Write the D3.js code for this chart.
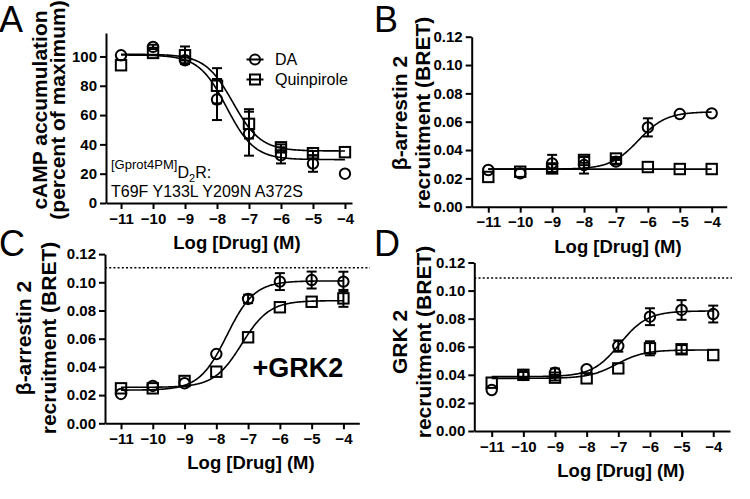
<!DOCTYPE html>
<html><head><meta charset="utf-8">
<script src="https://cdn.jsdelivr.net/npm/d3@7"></script>
<style>body{margin:0;background:#fff}svg{display:block}</style>
</head><body>
<svg id="c" width="750" height="499"></svg>
<script>
// ---------- DATA ----------
const logDose = [-11, -10, -9, -8, -7, -6, -5, -4];
const xTicks = [-11, -10, -9, -8, -7, -6, -5, -4];
const yTicksA = [0, 20, 40, 60, 80, 100];
const yTicksBRET = [0, 0.02, 0.04, 0.06, 0.08, 0.10, 0.12];
const seriesNames = ["DA", "Quinpirole"];

// Panel A: cAMP accumulation (% of max)
const aDA = [100.8, 106.5, 97.4, 70.6, 47.3, 32.5, 26.9, 20];
const aDAerr = [0, 1.5, 2, 14, 15, 5.5, 5.6, 0];
const aQuin = [94, 102.4, 100.8, 80, 54, 38, 34, 34.7];
const aQuinErr = [0, 0, 6, 12, 10, 2, 1.5, 0];
// fit params: [bottom, top, logEC50]
const aDAfit = [29.6, 101, -7.7];
const aQuinFit = [35.5, 101.5, -7.5];

// Panel B: beta-arrestin 2 recruitment
const bDA = [0.0259, 0.0235, 0.0306, 0.0294, 0.0318, 0.056, 0.0654, 0.0659];
const bDAerr = [0, 0, 0.006, 0.006, 0.002, 0.0064, 0, 0];
const bQuin = [0.021, 0.0247, 0.027, 0.033, 0.034, 0.028, 0.0266, 0.0266];
const bQuinErr = [0, 0, 0.003, 0.002, 0.001, 0, 0, 0];
const bDAfit = [0.0265, 0.067, -6.3];
const bQuinFit = [0.0265, 0.0265, -7];

// Panel C: beta-arrestin 2 recruitment +GRK2
const cDA = [0.0208, 0.0265, 0.0284, 0.0491, 0.0882, 0.1005, 0.1016, 0.1005];
const cDAerr = [0, 0, 0, 0, 0.003, 0.006, 0.006, 0.007];
const cQuin = [0.0248, 0.0248, 0.030, 0.0366, 0.061, 0.0823, 0.0862, 0.0886];
const cQuinErr = [0, 0, 0, 0, 0, 0, 0, 0.006];
const cDAfit = [0.0235, 0.101, -7.67];
const cQuinFit = [0.0255, 0.087, -7.2];
const cRef = 0.1104;

// Panel D: GRK2 recruitment
const dDA = [0.0292, 0.0399, 0.0415, 0.044, 0.0605, 0.0814, 0.0862, 0.0833];
const dDAerr = [0, 0, 0.003, 0, 0.004, 0.006, 0.007, 0.006];
const dQuin = [0.0344, 0.040, 0.038, 0.0375, 0.0446, 0.0589, 0.0582, 0.0541];
const dQuinErr = [0, 0.002, 0.002, 0, 0, 0.005, 0.003, 0];
const dDAfit = [0.0387, 0.0855, -6.95];
const dQuinFit = [0.0375, 0.0577, -7.05];
const dRef = 0.109;

// ---------- DRAW ----------
const svg = d3.select("#c");
const FONT = "'Liberation Sans', Arial, Helvetica, sans-serif";

function sigmoid(p, x, decreasing) {
  const [bot, top, ec] = p;
  const e = decreasing ? (x - ec) : (ec - x);
  return bot + (top - bot) / (1 + Math.pow(10, e));
}

function panel(cfg) {
  const g = svg.append("g");
  const x = d3.scaleLinear().domain(cfg.xdom).range([cfg.left, cfg.right]);
  const y = d3.scaleLinear().domain(cfg.ydom).range([cfg.bottom, cfg.top]);

  const xa = g.append("g").attr("transform", `translate(0,${cfg.bottom})`)
    .call(d3.axisBottom(x).tickValues(xTicks).tickSize(6).tickSizeOuter(0).tickFormat(d3.format("d")));
  const ya = g.append("g").attr("transform", `translate(${cfg.left},0)`)
    .call(d3.axisLeft(y).tickValues(cfg.yticks).tickSize(6).tickSizeOuter(0).tickFormat(cfg.fmt));
  [xa, ya].forEach(a => {
    a.select(".domain").attr("stroke", "#000").attr("stroke-width", 2);
    a.selectAll(".tick line").attr("stroke", "#000").attr("stroke-width", 2);
    a.selectAll("text").attr("fill", "#000").style("font-family", FONT)
      .style("font-size", "15px").style("font-weight", "bold");
  });
  xa.selectAll("text").attr("y", 10);
  ya.selectAll("text").attr("x", -9);

  if (cfg.ref != null) {
    g.append("line").attr("x1", cfg.left).attr("x2", cfg.refEnd)
      .attr("y1", y(cfg.ref)).attr("y2", y(cfg.ref))
      .attr("stroke", "#000").attr("stroke-width", 1.5).attr("stroke-dasharray", "2,2.2");
  }

  const xs = d3.range(0, 281).map(i => -11 + i * 7 / 280);
  const line = d3.line().x(d => x(d[0])).y(d => y(d[1]));
  cfg.series.forEach(s => {
    g.append("path").datum(xs.map(v => [v, sigmoid(s.fit, v, cfg.decreasing)]))
      .attr("d", line).attr("fill", "none").attr("stroke", "#000").attr("stroke-width", 1.6);
  });

  cfg.series.forEach(s => {
    const pts = logDose.map((d, i) => ({ x: d, v: s.vals[i], e: s.err[i] }));
    const eb = g.append("g").attr("stroke", "#000").attr("stroke-width", 2);
    pts.filter(p => p.e > 0).forEach(p => {
      const cx = x(p.x);
      eb.append("line").attr("x1", cx).attr("x2", cx).attr("y1", y(p.v - p.e)).attr("y2", y(p.v + p.e));
      [p.v - p.e, p.v + p.e].forEach(v => eb.append("line")
        .attr("x1", cx - 5).attr("x2", cx + 5).attr("y1", y(v)).attr("y2", y(v)));
    });
    const mk = g.append("g").attr("fill", "none").attr("stroke", "#000").attr("stroke-width", 2);
    pts.forEach(p => {
      if (s.shape === "circle") mk.append("circle").attr("cx", x(p.x)).attr("cy", y(p.v)).attr("r", 5.2);
      else mk.append("rect").attr("x", x(p.x) - 5.2).attr("y", y(p.v) - 5.2).attr("width", 10.4).attr("height", 10.4);
    });
  });

  g.append("text").attr("x", cfg.xTitleX).attr("y", cfg.bottom + 46)
    .attr("text-anchor", "middle").style("font-family", FONT).style("font-size", "18.5px")
    .style("font-weight", "bold").text("Log [Drug] (M)");
  cfg.yTitle.forEach((t, i) => {
    g.append("text").attr("transform", `translate(${cfg.yTitleX[i]},${cfg.yTitleY}) rotate(-90)`)
      .attr("text-anchor", "middle").style("font-family", FONT).style("font-size", "21px")
      .style("font-weight", "bold").text(t);
  });
  g.append("text").attr("x", cfg.letterX).attr("y", cfg.letterY)
    .style("font-family", FONT).style("font-size", "36px").text(cfg.letter);
  return { g, x, y };
}

panel({
  left: 106, right: 352, top: 33, bottom: 203, xdom: [-11.47, -3.78], ydom: [0, 116],
  yticks: yTicksA, fmt: d3.format("d"), decreasing: true,
  series: [
    { vals: aDA, err: aDAerr, fit: aDAfit, shape: "circle" },
    { vals: aQuin, err: aQuinErr, fit: aQuinFit, shape: "square" }],
  xTitleX: 237, yTitle: ["cAMP accumulation", "(percent of maximum)"], yTitleX: [47, 65], yTitleY: 110,
  letter: "A", letterX: -1, letterY: 32
});
panel({
  left: 471.7, right: 726.7, top: 36.7, bottom: 206.7, xdom: [-11.52, -3.53], ydom: [0, 0.12],
  yticks: yTicksBRET, fmt: d3.format(".2f"), decreasing: false,
  series: [
    { vals: bDA, err: bDAerr, fit: bDAfit, shape: "circle" },
    { vals: bQuin, err: bQuinErr, fit: bQuinFit, shape: "square" }],
  xTitleX: 618, yTitle: ["β-arrestin 2", "recruitment (BRET)"], yTitleX: [407, 430], yTitleY: 113,
  letter: "B", letterX: 374, letterY: 32
});
panel({
  left: 105, right: 359.3, top: 254.1, bottom: 423.3, xdom: [-11.504, -3.5], ydom: [0, 0.12],
  yticks: yTicksBRET, fmt: d3.format(".2f"), decreasing: false, ref: cRef, refEnd: 370,
  series: [
    { vals: cDA, err: cDAerr, fit: cDAfit, shape: "circle" },
    { vals: cQuin, err: cQuinErr, fit: cQuinFit, shape: "square" }],
  xTitleX: 251, yTitle: ["β-arrestin 2", "recruitment (BRET)"], yTitleX: [31, 56], yTitleY: 338,
  letter: "C", letterX: -1, letterY: 256
});
panel({
  left: 474.3, right: 730, top: 262.5, bottom: 431, xdom: [-11.55, -3.47], ydom: [0, 0.12],
  yticks: yTicksBRET, fmt: d3.format(".2f"), decreasing: false, ref: dRef, refEnd: 732,
  series: [
    { vals: dDA, err: dDAerr, fit: dDAfit, shape: "circle" },
    { vals: dQuin, err: dQuinErr, fit: dQuinFit, shape: "square" }],
  xTitleX: 621, yTitle: ["GRK 2", "recruitment (BRET)"], yTitleX: [407, 431], yTitleY: 342,
  letter: "D", letterX: 374, letterY: 256
});

// Legend (panel A)
const leg = svg.append("g");
seriesNames.forEach((n, i) => {
  const ly = 59.5 + i * 20;
  leg.append("line").attr("x1", 246.5).attr("x2", 263.5).attr("y1", ly).attr("y2", ly)
    .attr("stroke", "#000").attr("stroke-width", 2);
  if (i === 0) leg.append("circle").attr("cx", 255).attr("cy", ly).attr("r", 5)
    .attr("fill", "none").attr("stroke", "#000").attr("stroke-width", 2);
  else leg.append("rect").attr("x", 250).attr("y", ly - 5).attr("width", 10).attr("height", 10)
    .attr("fill", "none").attr("stroke", "#000").attr("stroke-width", 2);
  leg.append("text").attr("x", 275).attr("y", ly + 5.5).style("font-family", FONT)
    .style("font-size", "16px").text(n);
});

// Annotation (panel A)
const ann = svg.append("text").attr("x", 111).attr("y", 178).style("font-family", FONT).style("font-size", "16px");
ann.append("tspan").attr("font-size", "13px").attr("dy", -9).text("[Gprot4PM]");
ann.append("tspan").attr("dy", 9).text("D");
ann.append("tspan").attr("font-size", "11px").attr("dy", 4).text("2");
ann.append("tspan").attr("dy", -4).text("R:");
svg.append("text").attr("x", 111).attr("y", 197).style("font-family", FONT).style("font-size", "16px")
  .text("T69F Y133L Y209N A372S");

// +GRK2 label (panel C)
svg.append("text").attr("x", 298).attr("y", 377).attr("text-anchor", "middle")
  .style("font-family", FONT).style("font-size", "27px").style("font-weight", "bold").text("+GRK2");
</script>
</body></html>
